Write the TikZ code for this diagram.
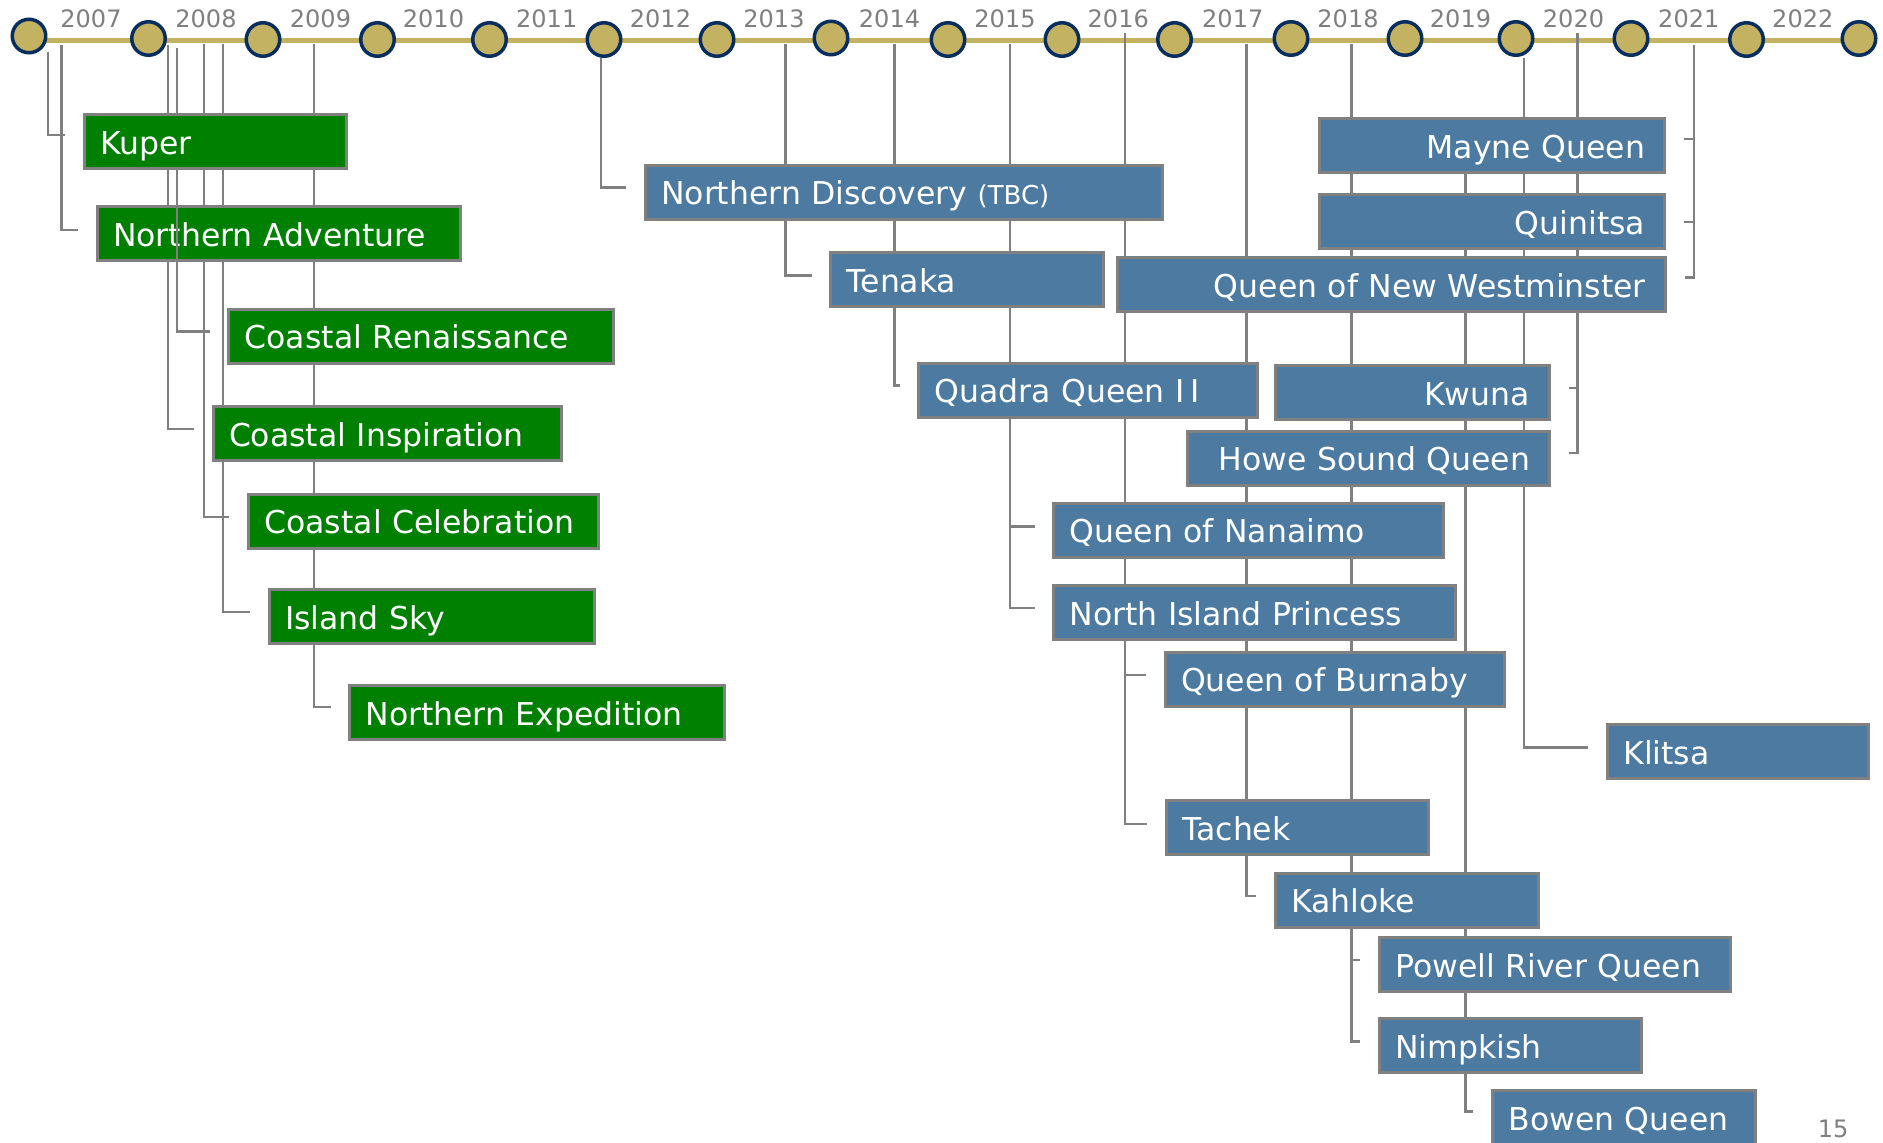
\documentclass[tikz,border=0pt]{standalone}
\usepackage{fontspec}
\setmainfont{DejaVu Sans}
\usetikzlibrary{calc}
\pgfdeclarelayer{tline}
\pgfdeclarelayer{links}
\pgfsetlayers{tline,links,main}
\definecolor{tlgold}{RGB}{196,178,99}
\definecolor{tlnavy}{RGB}{8,45,95}
\definecolor{boxgreen}{RGB}{0,128,0}
\definecolor{boxblue}{RGB}{76,122,160}
\definecolor{lngray}{RGB}{128,128,128}
\definecolor{yeargray}{RGB}{127,127,127}
\begin{document}
\begin{tikzpicture}[x=0.5pt,y=-0.5pt,
  shipbase/.style={draw=lngray, line width=1.5pt, text=white, anchor=north west,
    minimum height=27pt, inner ysep=0pt, inner xsep=8pt,
    text height=12.8pt, text depth=0pt, font=\fontsize{15.75pt}{18pt}\selectfont},
  gship/.style={shipbase, fill=boxgreen, align=left},
  bship/.style={shipbase, fill=boxblue, align=left},
  rship/.style={shipbase, fill=boxblue, align=right, inner xsep=9.8pt},
  conn/.style={draw=lngray, line width=1.15pt, shorten >=8.75pt},
  yr/.style={text=yeargray, font=\fontsize{12pt}{14pt}\selectfont, inner sep=0pt},
  dot/.style={circle, draw=tlnavy, fill=tlgold, line width=1.75pt, minimum size=16.75pt, inner sep=0pt},
]
\useasboundingbox (0,0) rectangle (1883,1142);

% ---------- timeline ----------
\begin{pgfonlayer}{tline}
  \fill[white] (0,0) rectangle (1883,1142);
  \coordinate (tlA) at (29,40.5);
  \coordinate (tlB) at (1859,40.5);
  \draw[tlgold, line width=2.85pt] (tlA) -- (tlB);
  \foreach \i/\xx/\yy in {0/29/36,1/148.5/38.5,2/263/39.5,3/377.5/39.5,4/489.5/39.5,5/604/39.5,
      6/717/39.5,7/831/38,8/948/39.5,9/1062/39.5,10/1174.5/39.5,11/1291/38.5,12/1405/38.5,
      13/1516/38.5,14/1631/38.5,15/1746.5/39.5,16/1859/38.5}
    \node[dot] (d\i) at (\xx,\yy) {};
\end{pgfonlayer}

\foreach \yv/\xx in {2007/91,2008/206,2009/320.5,2010/433.5,2011/546.75,2012/660.5,2013/774,
    2014/889.5,2015/1005,2016/1118.25,2017/1232.75,2018/1348,2019/1460.5,2020/1573.5,
    2021/1688.75,2022/1802.75}
  \node[yr] (y\yv) at (\xx,18.5) {\yv};
\node[yr] (pnum) at (1833,1129) {15};

% ---------- boxes (green) ----------
\node[gship, text width=165.75pt] (nadv) at (95.5,205) {Northern Adventure};
\node[gship, text width=176.5pt] (cren) at (227.2,307.5) {Coastal Renaissance};
\coordinate (sCRen) at (177,48);
\draw[conn] (sCRen) |- ($(cren.west)+(0,-4.5)$);
\node[gship, text width=115pt] (kuper) at (82.5,113.2) {Kuper};
\node[gship, text width=158.25pt] (cins) at (211.5,405) {Coastal Inspiration};
\node[gship, text width=159.25pt] (ccel) at (246.9,492.5) {Coastal Celebration};
\node[gship, text width=146.5pt] (isky) at (267.5,588) {Island Sky};
\node[gship, text width=171.5pt] (nexp) at (348,684) {Northern Expedition};

% ---------- boxes (blue) ----------
\node[bship, text width=242.5pt] (ndisc) at (643.7,163.5) {Northern Discovery {\fontsize{13pt}{15pt}\selectfont (TBC)}};
\node[bship, text width=120.2pt] (tenaka) at (829.2,250.8) {Tenaka};
\node[rship, text width=254.4pt] (qnw) at (1116,256) {Queen of New Westminster};
\node[rship, text width=153.15pt] (mayne) at (1317.7,117.2) {Mayne Queen};
\node[rship, text width=153.15pt] (quin) at (1317.7,193.2) {Quinitsa};
\node[bship, text width=153.5pt] (qq2) at (917.1,361.5) {Quadra Queen I\kern3pt I};
\node[rship, text width=117.4pt] (kwuna) at (1274,364.2) {Kwuna};
\node[rship, text width=161.65pt] (hsq) at (1185.8,429.5) {Howe Sound Queen};
\node[bship, text width=178.75pt] (qnan) at (1052,501.5) {Queen of Nanaimo};
\node[bship, text width=184.85pt] (nip) at (1052,584) {North Island Princess};
\node[bship, text width=153.5pt] (qbur) at (1163.5,650.5) {Queen of Burnaby};
\node[bship, text width=114.6pt] (klitsa) at (1605.9,723.2) {Klitsa};
\node[bship, text width=115.2pt] (tachek) at (1164.8,799.2) {Tachek};
\node[bship, text width=115.3pt] (kahloke) at (1273.9,871.5) {Kahloke};
\node[bship, text width=159.75pt] (prq) at (1377.6,935.8) {Powell River Queen};
\node[bship, text width=115.3pt] (nimp) at (1377.6,1017.2) {Nimpkish};
\node[bship, text width=115.6pt] (bowen) at (1490.9,1089.2) {Bowen Queen};

% ---------- connectors ----------
\coordinate (sKuper) at (48.3,51.7);
\coordinate (sNAdv) at (61.5,45);
\coordinate (sCIns) at (168.2,45);
\coordinate (sCCel) at (203.8,43.5);
\coordinate (sISky) at (223.3,43.5);
\coordinate (sNExp) at (314,43.5);
\coordinate (s2012) at (601,58);
\coordinate (sTen) at (785.5,44);
\coordinate (sQQ) at (894.6,44);
\coordinate (s2015) at (1009.8,44);
\coordinate (s2016) at (1125,33);
\coordinate (s2017) at (1246.5,44);
\coordinate (s2018) at (1351.5,44);
\coordinate (sBowen) at (1465.5,150);
\coordinate (s2019) at (1524,58);
\coordinate (s2020) at (1577.5,33);
\coordinate (s2021) at (1694,45);

\begin{pgfonlayer}{links}
  \draw[conn] (sKuper) |- ($(kuper.west)+(0,-6.7)$);
  \draw[conn] (sNAdv) |- ($(nadv.west)+(0,-3.7)$);
  \draw[conn] (sCIns) |- ($(cins.west)+(0,-4.7)$);
  \draw[conn] (sCCel) |- ($(ccel.west)+(0,-3.8)$);
  \draw[conn] (sISky) |- ($(isky.west)+(0,-4.5)$);
  \draw[conn] (sNExp) |- ($(nexp.west)+(0,-5.2)$);
  \draw[conn] (s2012) |- ($(ndisc.west)+(0,-4.5)$);
  \draw[conn] (sTen) |- ($(tenaka.west)+(0,-3.8)$);
  \draw[conn] (sQQ) |- ($(qq2.west)+(0,-4.5)$);
  \draw[conn] (s2015) |- ($(qnan.west)+(0,-3.5)$);
  \draw[conn] (s2015) |- ($(nip.west)+(0,-4.3)$);
  \draw[conn] (s2016) |- ($(qbur.west)+(0,-4.2)$);
  \draw[conn] (s2016) |- ($(tachek.west)+(0,-3.5)$);
  \draw[conn] (s2017) |- ($(kahloke.west)+(0,-4.2)$);
  \draw[conn] (s2018) |- ($(prq.west)+(0,-4.5)$);
  \draw[conn] (s2018) |- ($(nimp.west)+(0,-4.2)$);
  \draw[conn] (sBowen) |- ($(bowen.west)+(0,-6.2)$);
  \draw[conn] (s2019) |- ($(klitsa.west)+(0,-4.2)$);
  \draw[conn] (s2020) |- ($(kwuna.east)+(0,-4.5)$);
  \draw[conn] (s2020) |- ($(hsq.east)+(0,-4.8)$);
  \draw[conn] (s2021) |- ($(mayne.east)+(0,-6.5)$);
  \draw[conn] (s2021) |- ($(quin.east)+(0,0)$);
  \draw[conn] (s2021) |- ($(qnw.east)+(0,-7)$);
\end{pgfonlayer}
\end{tikzpicture}
\end{document}
